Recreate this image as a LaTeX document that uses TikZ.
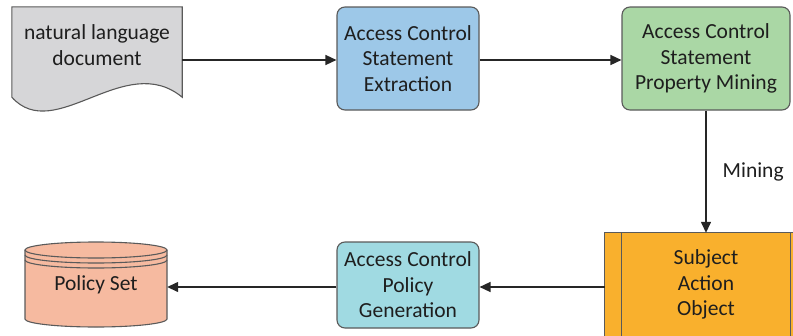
\documentclass[tikz,border=0pt]{standalone}
\usepackage{fontspec}
\setmainfont{Carlito}
\usetikzlibrary{arrows.meta}
\definecolor{docgray}{RGB}{214,214,216}
\definecolor{boxblue}{RGB}{157,200,232}
\definecolor{boxgreen}{RGB}{170,215,165}
\definecolor{boxteal}{RGB}{160,218,226}
\definecolor{cylsalmon}{RGB}{246,186,160}
\definecolor{boxorange}{RGB}{249,176,45}
\definecolor{edgegray}{RGB}{90,90,90}
\definecolor{txt}{RGB}{30,30,30}
\tikzset{
  procbox/.style={draw=edgegray, line width=1.1pt, rounded corners=8pt, align=center,
    inner sep=0pt, text=txt, font=\fontsize{21.5}{25.5}\selectfont},
  plainbox/.style={inner sep=0pt, align=center, text=txt, font=\fontsize{21.5}{25.5}\selectfont},
  arr/.style={line width=1.4pt, draw=black!85, -{Triangle[length=11pt,width=10pt]}},
  shapeline/.style={draw=edgegray, line width=1.1pt}
}
\begin{document}
\begin{tikzpicture}[x=1pt,y=-1pt]
\path[use as bounding box] (0,0) rectangle (793,335);
\clip (0,0) rectangle (793,335);

% natural language document
\node[plainbox, minimum width=170pt, minimum height=90pt] (doc) at (97,52) {};
\path[shapeline, fill=docgray] (doc.north west) -- (doc.north east) -- (doc.south east)
  .. controls (125,50) and (55,145) .. (doc.south west) -- cycle;
\node[plainbox] (doctext) at (97,45) {natural language\\document};

% extraction
\node[procbox, fill=boxblue, minimum width=142pt, minimum height=103pt] (extract) at (408,58.5)
  {Access Control\\Statement\\Extraction};

% property mining
\node[procbox, fill=boxgreen, minimum width=168pt, minimum height=103pt] (mine) at (706,58.5)
  {Access Control\\Statement\\Property Mining};

% subject action object
\node[plainbox, minimum width=202pt, minimum height=103pt] (sao) at (706,284.5) {};
\path[shapeline, fill=boxorange] (sao.north west) rectangle (sao.south east);
\draw[shapeline] ([xshift=17pt]sao.north west) -- ([xshift=17pt]sao.south west);
\draw[shapeline] ([xshift=-17pt]sao.north east) -- ([xshift=-17pt]sao.south east);
\node[plainbox] (saotext) at (706,284.5) {Subject\\Action\\Object};

% policy generation
\node[procbox, fill=boxteal, minimum width=142pt, minimum height=86pt] (gen) at (408,285)
  {Access Control\\Policy\\Generation};

% policy set cylinder
\node[plainbox, minimum width=142pt, minimum height=85pt] (pset) at (96,284.5) {};
\path[shapeline, fill=cylsalmon] (25,250) -- (25,319) arc[start angle=180, end angle=360, x radius=71pt, y radius=8pt]
  -- (167,250) arc[start angle=0, end angle=180, x radius=71pt, y radius=8pt] -- cycle;
\draw[shapeline] (25,250) arc[start angle=180, end angle=360, x radius=71pt, y radius=8pt];
\draw[shapeline] (25,255) arc[start angle=180, end angle=360, x radius=71pt, y radius=8pt];
\draw[shapeline] (25,260) arc[start angle=180, end angle=360, x radius=71pt, y radius=8pt];
\node[plainbox] (psettext) at (96,285) {Policy Set};

% connectors
\draw[arr] (doc.east |- 0,60) -- (extract.west |- 0,60);
\draw[arr] (extract.east |- 0,60) -- (mine.west |- 0,60);
\draw[arr] (mine.south) -- node[plainbox, right=16pt, pos=0.5] (mininglabel) {Mining} (sao.north);
\draw[arr] (sao.west |- 0,287) -- (gen.east |- 0,287);
\draw[arr] (gen.west |- 0,287) -- (pset.east |- 0,287);
\end{tikzpicture}
\end{document}
